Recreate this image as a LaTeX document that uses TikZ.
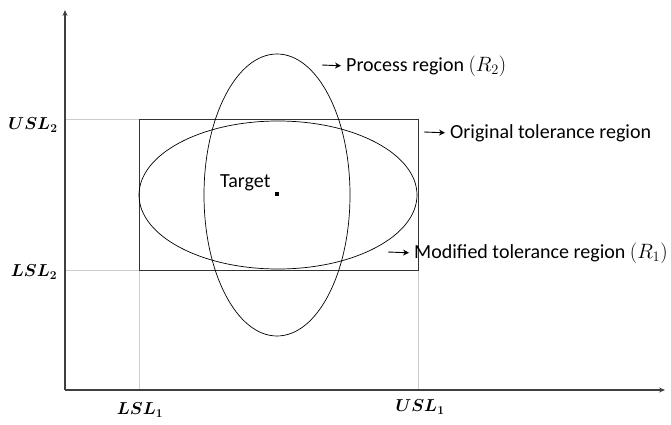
\documentclass[tikz,border=0pt]{standalone}
\usepackage{fontspec}
\setmainfont{Carlito}
\usepackage{amsmath,bm}
\usetikzlibrary{arrows.meta}
\begin{document}
\begin{tikzpicture}[x=1pt,y=-1pt,
  axis/.style={draw=black!75, line width=1.4pt, -{Stealth[length=6pt,width=5pt]}},
  guide/.style={draw=black!20, line width=0.8pt},
  curve/.style={draw=black, line width=0.7pt},
  ptr/.style={draw=black, line width=0.9pt, -{Stealth[length=6pt,width=6pt]}, shorten >=5pt},
  lbl/.style={font=\fontsize{20}{22}\selectfont, anchor=west, inner sep=0pt},
  ax/.style={font=\fontsize{17}{19}\selectfont, inner sep=0pt}]
\useasboundingbox (0,0) rectangle (671,425);
\coordinate (O) at (65,390);
\coordinate (ytip) at (65,10);
\coordinate (xtip) at (665,390);
% guides
\draw[guide] (65,119) -- (139,119);
\draw[guide] (65,270) -- (139,270);
\draw[guide] (139,270) -- (139,390);
\draw[guide] (418,270) -- (418,390);
% axes
\draw[axis] (O) -- (ytip);
\draw[axis] (O) -- (xtip);
% rectangle
\draw[black!80, line width=0.9pt] (139,119) rectangle (418,270);
% ellipses
\draw[curve] (278,195) ellipse [x radius=139, y radius=74];
\draw[curve] (277,195) ellipse [x radius=73, y radius=141];
% target
\fill (275,196) rectangle ++(4,-4);
\node[lbl] (target) at (220,183) {Target};
% labels
\node[lbl] (proc) at (346,66) {Process region $(R_2)$};
\node[lbl] (orig) at (450,133) {Original tolerance region};
\node[lbl] (mod) at (414,253) {Modified tolerance region $(R_1)$};
\coordinate (p1) at (322,65);
\coordinate (o1) at (424,132);
\coordinate (m1) at (388,252);
\draw[ptr] (p1) -- (proc.west);
\draw[ptr] (o1) -- (orig.west);
\draw[ptr] (m1) -- (mod.west);
% axis labels
\node[ax] (usl2) at (33,125) {$\bm{USL_2}$};
\node[ax] (lsl2) at (34,272) {$\bm{LSL_2}$};
\node[ax] (lsl1) at (140,410) {$\bm{LSL_1}$};
\node[ax] (usl1) at (420,407) {$\bm{USL_1}$};
\end{tikzpicture}
\end{document}
